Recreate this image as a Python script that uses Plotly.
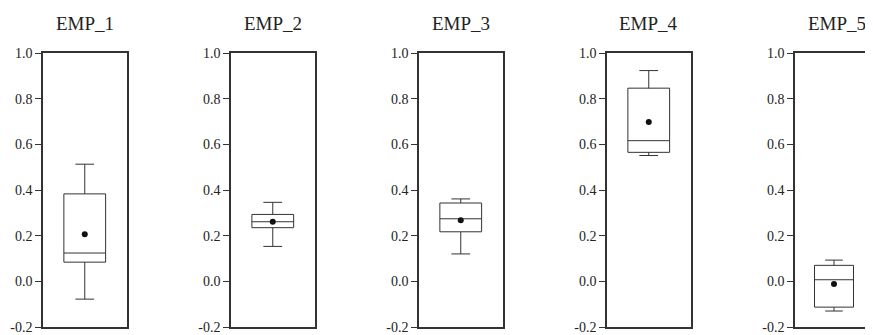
import plotly.graph_objects as go

names = ["EMP_1", "EMP_2", "EMP_3", "EMP_4", "EMP_5"]
lower = [-0.078, 0.153, 0.120, 0.551, -0.130]
q1 = [0.084, 0.235, 0.217, 0.565, -0.113]
median = [0.124, 0.261, 0.274, 0.616, 0.007]
q3 = [0.383, 0.293, 0.343, 0.846, 0.070]
upper = [0.513, 0.346, 0.361, 0.923, 0.093]
mean = [0.206, 0.261, 0.268, 0.698, -0.012]
tick_vals = [-0.2, 0.0, 0.2, 0.4, 0.6, 0.8, 1.0]
tick_text = ["-0.2", "0.0", "0.2", "0.4", "0.6", "0.8", "1.0"]

# page has an 8px body margin; figure is sized so it ends at the window edge
W, H = 865, 327
FONT = "Liberation Serif, Times New Roman, serif"
LINE = "#333333"

fig = go.Figure()
left0, step, pw = 35, 188, 83.5
layout = dict(width=W, height=H, margin=dict(l=0, r=0, t=45, b=6),
              plot_bgcolor="white", paper_bgcolor="white", showlegend=False,
              font=dict(family=FONT, color="#222222", size=14))
annotations = []
for i, n in enumerate(names):
    k = "" if i == 0 else str(i + 1)
    x0 = (left0 + step * i) / W
    x1 = min(1.0, (left0 + step * i + pw) / W)
    fig.add_trace(go.Box(
        x=[0], q1=[q1[i]], median=[median[i]], q3=[q3[i]],
        lowerfence=[lower[i]], upperfence=[upper[i]],
        width=0.5, whiskerwidth=0.45, fillcolor="white",
        line=dict(color=LINE, width=1), boxpoints=False,
        xaxis="x" + k, yaxis="y" + k, hoverinfo="skip"))
    fig.add_trace(go.Scatter(
        x=[0], y=[mean[i]], mode="markers",
        marker=dict(color="#111111", size=6),
        xaxis="x" + k, yaxis="y" + k, hoverinfo="skip"))
    layout["xaxis" + k] = dict(domain=[x0, x1], range=[-0.5, 0.5], showline=True,
                               linecolor=LINE, linewidth=1.5, mirror=True,
                               showticklabels=False, ticks="", showgrid=False,
                               zeroline=False, anchor="y" + k)
    layout["yaxis" + k] = dict(range=[-0.2, 1.0], tickvals=tick_vals, ticktext=tick_text,
                               showline=True, linecolor=LINE, linewidth=1.5,
                               mirror=(i < 4), ticks="outside", ticklen=6,
                               tickcolor=LINE, tickwidth=1, showgrid=False,
                               zeroline=False, anchor="x" + k,
                               ticklabeloverflow="allow",
                               tickfont=dict(family=FONT, size=14, color="#222222"))
    annotations.append(dict(text=n, x=(left0 + step * i + pw / 2) / W,
                            xref="paper", yref="paper", y=1 + 30 / 276,
                            xanchor="center", yanchor="middle", showarrow=False,
                            font=dict(family=FONT, size=19, color="#222222")))
layout["annotations"] = annotations
fig.update_layout(**layout)
fig.write_html("out.html")
